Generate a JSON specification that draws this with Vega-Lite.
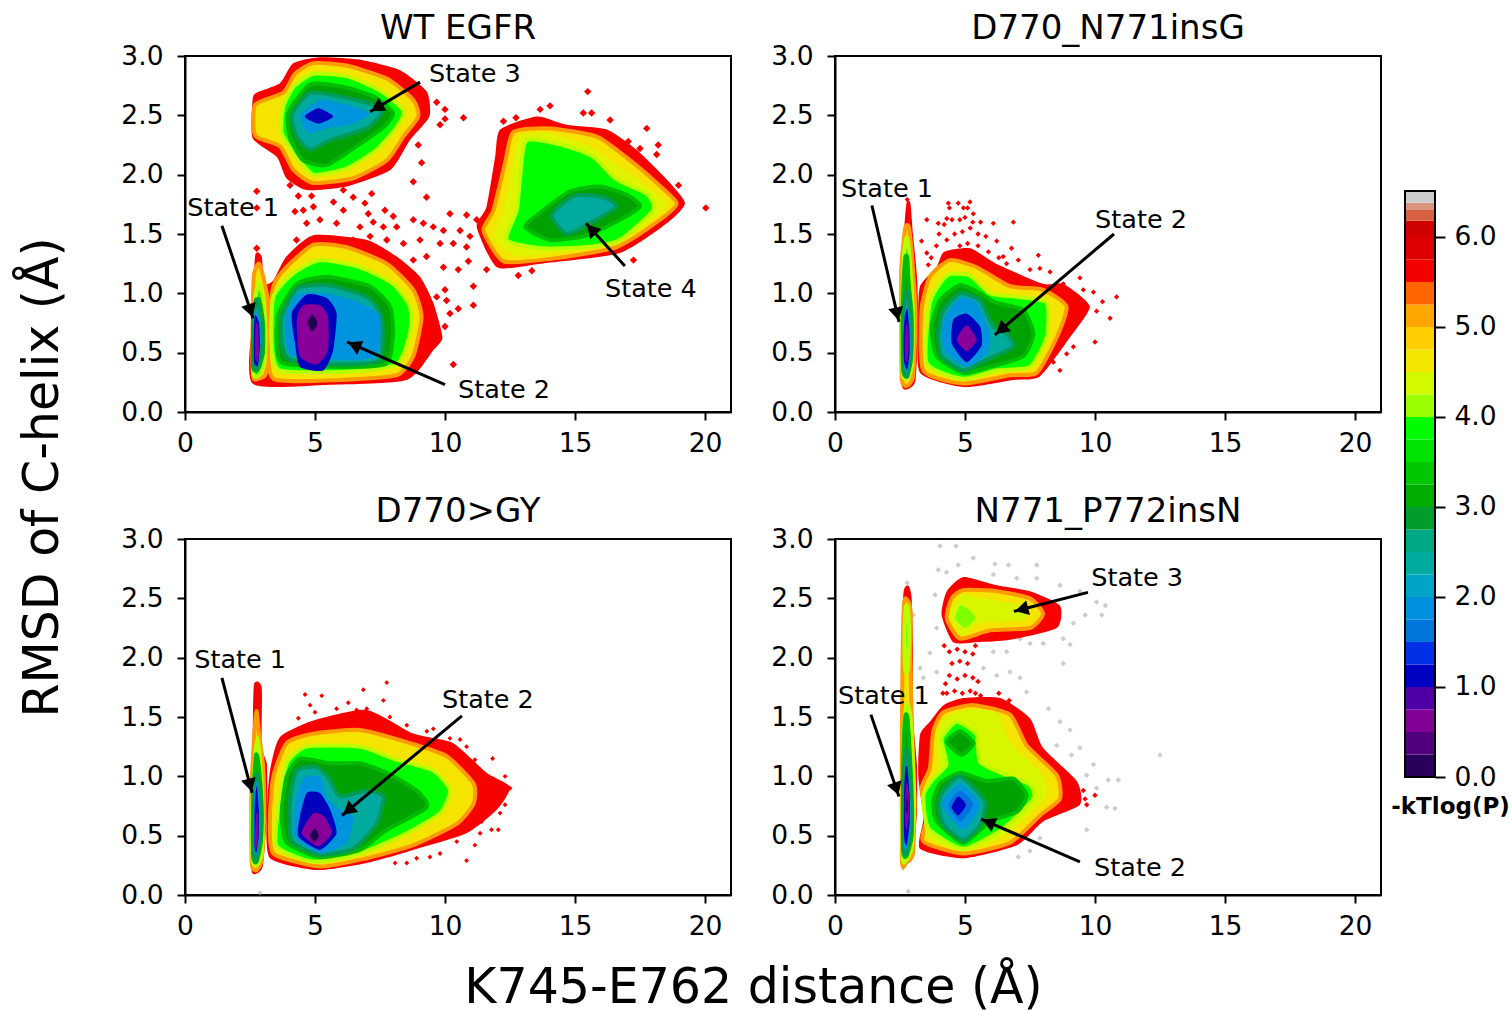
{"$schema":"https://vega.github.io/schema/vega-lite/v6.json","padding":{"left":17,"top":11,"right":0,"bottom":4},"background":"white",
"config":{"font":"DejaVu Sans","view":{"stroke":"black","strokeWidth":2},"title":{"font":"DejaVu Sans","fontSize":34,"fontWeight":"normal","color":"black","offset":-3},"axisX":{"labelPadding":10},"axisY":{"labelPadding":14},"axis":{"grid":false,"labelFont":"DejaVu Sans","labelFontSize":26.5,"labelColor":"black","tickColor":"black","tickSize":8,"tickWidth":2,"domainColor":"black","domainWidth":2,"labelOverlap":false,"labelFlush":false,"titleFont":"DejaVu Sans","titleFontSize":49,"titleFontWeight":"normal","titleColor":"black"}},
"datasets":{
"cbar":[{"v":0.12,"a":0,"b":0.25},{"v":0.37,"a":0.25,"b":0.5},{"v":0.62,"a":0.5,"b":0.75},{"v":0.87,"a":0.75,"b":1},{"v":1.12,"a":1,"b":1.25},{"v":1.37,"a":1.25,"b":1.5},{"v":1.62,"a":1.5,"b":1.75},{"v":1.87,"a":1.75,"b":2},{"v":2.12,"a":2,"b":2.25},{"v":2.37,"a":2.25,"b":2.5},{"v":2.62,"a":2.5,"b":2.75},{"v":2.87,"a":2.75,"b":3},{"v":3.12,"a":3,"b":3.25},{"v":3.37,"a":3.25,"b":3.5},{"v":3.62,"a":3.5,"b":3.75},{"v":3.87,"a":3.75,"b":4},{"v":4.12,"a":4,"b":4.25},{"v":4.37,"a":4.25,"b":4.5},{"v":4.62,"a":4.5,"b":4.75},{"v":4.87,"a":4.75,"b":5},{"v":5.12,"a":5,"b":5.25},{"v":5.37,"a":5.25,"b":5.5},{"v":5.62,"a":5.5,"b":5.75},{"v":5.87,"a":5.75,"b":6},{"v":6.12,"a":6,"b":6.18},{"v":6.28,"a":6.18,"b":6.3},{"v":6.38,"a":6.3,"b":6.38},{"v":6.5,"a":6.38,"b":6.51}],
"frame":[{"a":0,"b":6.51}],
"arrows":[{"p":"A","x":1.42,"y":1.57,"x2":2.62,"y2":0.79},{"p":"A","x":9.04,"y":2.78,"x2":7.12,"y2":2.53},{"p":"A","x":10,"y":0.23,"x2":6.23,"y2":0.59},{"p":"A","x":16.92,"y":1.23,"x2":15.42,"y2":1.59},{"p":"B","x":1.42,"y":1.74,"x2":2.46,"y2":0.76},{"p":"B","x":10.73,"y":1.5,"x2":6.15,"y2":0.65},{"p":"C","x":1.42,"y":1.83,"x2":2.58,"y2":0.86},{"p":"C","x":10.65,"y":1.51,"x2":6.04,"y2":0.67},{"p":"D","x":1.38,"y":1.52,"x2":2.46,"y2":0.83},{"p":"D","x":9.73,"y":2.55,"x2":6.88,"y2":2.39},{"p":"D","x":9.42,"y":0.28,"x2":5.62,"y2":0.64}],
"heads":[{"p":"A","x":2.52,"y":0.854,"a":161.4},{"p":"A","x":7.38,"y":2.565,"a":239},{"p":"A","x":6.51,"y":0.563,"a":293.7},{"p":"A","x":15.63,"y":1.54,"a":317.8},{"p":"B","x":2.39,"y":0.826,"a":167},{"p":"B","x":6.385,"y":0.694,"a":229.7},{"p":"C","x":2.5,"y":0.925,"a":165.4},{"p":"C","x":6.28,"y":0.713,"a":230.2},{"p":"D","x":2.36,"y":0.894,"a":161.1},{"p":"D","x":7.18,"y":2.407,"a":255.6},{"p":"D","x":5.9,"y":0.613,"a":293.5}],
"labels":[{"p":"A","x":1.85,"y":1.72,"t":"State 1"},{"p":"A","x":11.15,"y":2.85,"t":"State 3"},{"p":"A","x":12.27,"y":0.185,"t":"State 2"},{"p":"A","x":17.92,"y":1.04,"t":"State 4"},{"p":"B","x":2,"y":1.88,"t":"State 1"},{"p":"B","x":11.77,"y":1.62,"t":"State 2"},{"p":"C","x":2.12,"y":1.98,"t":"State 1"},{"p":"C","x":11.65,"y":1.64,"t":"State 2"},{"p":"D","x":1.88,"y":1.68,"t":"State 1"},{"p":"D","x":11.62,"y":2.67,"t":"State 3"},{"p":"D","x":11.73,"y":0.23,"t":"State 2"}],
"dotsA":[{"v":5.6,"x":2.76,"y":1.86},{"v":5.6,"x":4.36,"y":1.82},{"v":5.6,"x":4.87,"y":1.82},{"v":5.6,"x":6.09,"y":1.87},{"v":5.6,"x":6.47,"y":1.81},{"v":5.6,"x":7.18,"y":1.84},{"v":5.6,"x":2.76,"y":1.72},{"v":5.6,"x":4.23,"y":1.69},{"v":5.6,"x":4.55,"y":1.7},{"v":5.6,"x":4.94,"y":1.73},{"v":5.6,"x":5.71,"y":1.77},{"v":5.6,"x":6.09,"y":1.7},{"v":5.6,"x":7.05,"y":1.67},{"v":5.6,"x":6.92,"y":1.76},{"v":5.6,"x":7.69,"y":1.7},{"v":5.6,"x":8.01,"y":1.65},{"v":5.6,"x":9.29,"y":1.81},{"v":5.6,"x":10.19,"y":1.67},{"v":5.6,"x":10.83,"y":1.66},{"v":5.6,"x":11.22,"y":1.62},{"v":5.6,"x":5.19,"y":1.62},{"v":5.6,"x":4.68,"y":1.59},{"v":5.6,"x":4.29,"y":1.45},{"v":5.6,"x":5.83,"y":1.59},{"v":5.6,"x":6.73,"y":1.56},{"v":5.6,"x":7.24,"y":1.6},{"v":5.6,"x":7.63,"y":1.56},{"v":5.6,"x":8.14,"y":1.56},{"v":5.6,"x":8.78,"y":1.62},{"v":5.6,"x":9.17,"y":1.59},{"v":5.6,"x":9.55,"y":1.56},{"v":5.6,"x":9.94,"y":1.53},{"v":5.6,"x":10.58,"y":1.53},{"v":5.6,"x":10.96,"y":1.48},{"v":5.6,"x":6.47,"y":1.45},{"v":5.6,"x":7.12,"y":1.48},{"v":5.6,"x":7.76,"y":1.45},{"v":5.6,"x":8.4,"y":1.42},{"v":5.6,"x":9.04,"y":1.45},{"v":5.6,"x":9.81,"y":1.42},{"v":5.6,"x":10.32,"y":1.42},{"v":5.6,"x":10.83,"y":1.39},{"v":5.6,"x":8.78,"y":1.28},{"v":5.6,"x":9.29,"y":1.31},{"v":5.6,"x":9.94,"y":1.22},{"v":5.6,"x":10.51,"y":1.2},{"v":5.6,"x":10.9,"y":1.27},{"v":5.6,"x":11.09,"y":1.06},{"v":5.6,"x":10,"y":1.03},{"v":5.6,"x":9.68,"y":0.97},{"v":5.6,"x":10.06,"y":0.94},{"v":5.6,"x":10.51,"y":0.87},{"v":5.6,"x":11.09,"y":0.9},{"v":5.6,"x":10.19,"y":0.83},{"v":5.6,"x":10,"y":0.72},{"v":5.6,"x":10.32,"y":0.4},{"v":5.6,"x":2.76,"y":1.38},{"v":5.6,"x":4.04,"y":1.91},{"v":5.6,"x":4.94,"y":1.91},{"v":5.6,"x":9.1,"y":2.1},{"v":5.6,"x":8.78,"y":1.94},{"v":5.6,"x":9.68,"y":2.61},{"v":5.6,"x":10,"y":2.55},{"v":5.6,"x":10,"y":2.47},{"v":5.6,"x":9.81,"y":2.42},{"v":5.6,"x":10.71,"y":2.48},{"v":5.6,"x":8.97,"y":2.25},{"v":5.6,"x":8.27,"y":2.21},{"v":5.6,"x":15.49,"y":2.7},{"v":5.6,"x":14.04,"y":2.58},{"v":5.6,"x":13.66,"y":2.55},{"v":5.6,"x":15.32,"y":2.52},{"v":5.6,"x":15.64,"y":2.52},{"v":5.6,"x":16.35,"y":2.46},{"v":5.6,"x":17.76,"y":2.39},{"v":5.6,"x":18.2,"y":2.25},{"v":5.6,"x":18.14,"y":2.17},{"v":5.6,"x":18.98,"y":1.91},{"v":5.6,"x":20.03,"y":1.72},{"v":5.6,"x":17.25,"y":1.28},{"v":5.6,"x":13.34,"y":1.19},{"v":5.6,"x":12.82,"y":1.15},{"v":5.6,"x":11.6,"y":1.2},{"v":5.6,"x":12.25,"y":2.45},{"v":5.6,"x":12.73,"y":2.48},{"v":5.6,"x":17.05,"y":2.28},{"v":5.6,"x":17.5,"y":2.22}],
"dotsB":[{"v":5.6,"x":2.78,"y":1.79},{"v":5.6,"x":4.36,"y":1.76},{"v":5.6,"x":4.74,"y":1.76},{"v":5.6,"x":5.19,"y":1.77},{"v":5.6,"x":5.32,"y":1.67},{"v":5.6,"x":4.94,"y":1.72},{"v":5.6,"x":4.3,"y":1.63},{"v":5.6,"x":3.97,"y":1.59},{"v":5.6,"x":3.53,"y":1.62},{"v":5.6,"x":6.09,"y":1.59},{"v":5.6,"x":6.86,"y":1.6},{"v":5.6,"x":3.33,"y":1.44},{"v":5.6,"x":3.53,"y":1.34},{"v":5.6,"x":3.59,"y":1.24},{"v":5.6,"x":6.22,"y":1.44},{"v":5.6,"x":6.79,"y":1.38},{"v":5.6,"x":6.47,"y":1.31},{"v":5.6,"x":7.05,"y":1.28},{"v":5.6,"x":7.82,"y":1.32},{"v":5.6,"x":7.88,"y":1.21},{"v":5.6,"x":8.27,"y":1.18},{"v":5.6,"x":9.42,"y":1.13},{"v":5.6,"x":8.78,"y":1.08},{"v":5.6,"x":9.55,"y":1.03},{"v":5.6,"x":9.94,"y":1.01},{"v":5.6,"x":10.29,"y":0.93},{"v":5.6,"x":10.83,"y":0.97},{"v":5.6,"x":10.06,"y":0.85},{"v":5.6,"x":10.58,"y":0.79},{"v":5.6,"x":10,"y":0.59},{"v":5.6,"x":9.17,"y":0.55},{"v":5.6,"x":8.91,"y":0.49},{"v":5.6,"x":8.4,"y":0.42},{"v":5.6,"x":8.65,"y":0.35},{"v":5.6,"x":7.5,"y":1.2},{"v":5.6,"x":4.2,"y":1.3},{"v":5.6,"x":4.5,"y":1.35},{"v":5.6,"x":4.8,"y":1.4},{"v":5.6,"x":5.1,"y":1.42},{"v":5.6,"x":5.5,"y":1.4},{"v":5.6,"x":5.9,"y":1.35},{"v":5.6,"x":4.3,"y":1.45},{"v":5.6,"x":4.6,"y":1.5},{"v":5.6,"x":4.9,"y":1.52},{"v":5.6,"x":5.2,"y":1.55},{"v":5.6,"x":5.5,"y":1.5},{"v":5.6,"x":5.8,"y":1.48},{"v":5.6,"x":4.2,"y":1.58},{"v":5.6,"x":4.5,"y":1.62},{"v":5.6,"x":4.8,"y":1.62},{"v":5.6,"x":5,"y":1.64},{"v":5.6,"x":5.3,"y":1.6},{"v":5.6,"x":5.6,"y":1.6},{"v":5.6,"x":4.4,"y":1.72},{"v":5.6,"x":5.1,"y":1.72},{"v":5.6,"x":6.3,"y":1.3},{"v":5.6,"x":6.6,"y":1.25},{"v":5.6,"x":3.9,"y":1.4},{"v":5.6,"x":4,"y":1.5},{"v":5.6,"x":3.7,"y":1.3}],
"dotsC":[{"v":5.6,"x":7.76,"y":1.79},{"v":5.6,"x":6.86,"y":1.73},{"v":5.6,"x":5.26,"y":1.68},{"v":5.6,"x":4.62,"y":1.69},{"v":5.6,"x":4.81,"y":1.6},{"v":5.6,"x":7.63,"y":1.64},{"v":5.6,"x":5.83,"y":1.57},{"v":5.6,"x":6.28,"y":1.62},{"v":5.6,"x":6.6,"y":1.56},{"v":5.6,"x":6.99,"y":1.57},{"v":5.6,"x":5,"y":1.54},{"v":5.6,"x":4.36,"y":1.49},{"v":5.6,"x":7.88,"y":1.5},{"v":5.6,"x":8.53,"y":1.43},{"v":5.6,"x":9.3,"y":1.38},{"v":5.6,"x":9.55,"y":1.4},{"v":5.6,"x":10.19,"y":1.32},{"v":5.6,"x":10.58,"y":1.31},{"v":5.6,"x":10.83,"y":1.25},{"v":5.6,"x":11.15,"y":1.14},{"v":5.6,"x":11.83,"y":1.15},{"v":5.6,"x":12.31,"y":1},{"v":5.6,"x":12.5,"y":0.9},{"v":5.6,"x":12.31,"y":0.76},{"v":5.6,"x":12.12,"y":0.69},{"v":5.6,"x":11.79,"y":0.55},{"v":5.6,"x":12.05,"y":0.55},{"v":5.6,"x":11.15,"y":0.42},{"v":5.6,"x":10.83,"y":0.29},{"v":5.6,"x":9.81,"y":0.35},{"v":5.6,"x":9.42,"y":0.32},{"v":5.6,"x":8.91,"y":0.31},{"v":5.6,"x":8.53,"y":0.27},{"v":5.6,"x":8.08,"y":0.27},{"v":5.6,"x":11.41,"y":0.62},{"v":5.6,"x":11.35,"y":0.52},{"v":5.6,"x":10.45,"y":0.45},{"v":6.5,"x":2.88,"y":0.02}],
"dotsD":[{"v":6.5,"x":4.04,"y":2.94},{"v":6.5,"x":4.65,"y":2.94},{"v":6.5,"x":3.97,"y":2.74},{"v":6.5,"x":4.29,"y":2.72},{"v":6.5,"x":4.74,"y":2.78},{"v":6.5,"x":5.32,"y":2.84},{"v":6.5,"x":6.15,"y":2.79},{"v":6.5,"x":6.67,"y":2.78},{"v":6.5,"x":7.76,"y":2.78},{"v":6.5,"x":6.09,"y":2.7},{"v":6.5,"x":6.99,"y":2.67},{"v":6.5,"x":7.76,"y":2.67},{"v":6.5,"x":8.65,"y":2.61},{"v":6.5,"x":9.42,"y":2.56},{"v":6.5,"x":10.06,"y":2.47},{"v":6.5,"x":10.4,"y":2.44},{"v":6.5,"x":10.26,"y":2.36},{"v":6.5,"x":9.62,"y":2.36},{"v":6.5,"x":9.17,"y":2.29},{"v":6.5,"x":8.78,"y":2.16},{"v":6.5,"x":9.04,"y":2.11},{"v":6.5,"x":8.01,"y":2.12},{"v":6.5,"x":7.5,"y":2.12},{"v":6.5,"x":8.78,"y":1.95},{"v":6.5,"x":7.12,"y":2.16},{"v":6.5,"x":6.6,"y":2.05},{"v":6.5,"x":6.09,"y":2.05},{"v":6.5,"x":5.71,"y":1.91},{"v":6.5,"x":6.73,"y":1.88},{"v":6.5,"x":7.12,"y":1.83},{"v":6.5,"x":7.37,"y":1.71},{"v":6.5,"x":6.22,"y":1.85},{"v":6.5,"x":3.91,"y":1.88},{"v":6.5,"x":3.65,"y":2.04},{"v":6.5,"x":3.91,"y":2.25},{"v":6.5,"x":3.85,"y":2.53},{"v":6.5,"x":8.21,"y":1.57},{"v":6.5,"x":8.65,"y":1.46},{"v":6.5,"x":9.04,"y":1.39},{"v":6.5,"x":8.53,"y":1.26},{"v":6.5,"x":9.42,"y":1.24},{"v":6.5,"x":9.1,"y":1.18},{"v":6.5,"x":9.94,"y":1.1},{"v":6.5,"x":9.68,"y":1.01},{"v":6.5,"x":10.06,"y":0.9},{"v":6.5,"x":10.51,"y":0.97},{"v":6.5,"x":10.9,"y":0.97},{"v":6.5,"x":10.45,"y":0.74},{"v":6.5,"x":10.77,"y":0.73},{"v":6.5,"x":9.68,"y":0.55},{"v":6.5,"x":7.88,"y":0.48},{"v":6.5,"x":7.5,"y":0.37},{"v":6.5,"x":7.05,"y":0.32},{"v":6.5,"x":3.01,"y":2.36},{"v":6.5,"x":3.27,"y":1.91},{"v":6.5,"x":3.4,"y":1.83},{"v":6.5,"x":2.82,"y":0.03},{"v":6.5,"x":2.78,"y":2.63},{"v":6.5,"x":12.5,"y":1.18},{"v":5.6,"x":10,"y":0.84},{"v":5.6,"x":9.62,"y":0.81},{"v":5.6,"x":9.55,"y":0.88},{"v":5.6,"x":9.68,"y":0.76},{"v":5.6,"x":4.3,"y":1.7},{"v":5.6,"x":4.6,"y":1.72},{"v":5.6,"x":4.9,"y":1.7},{"v":5.6,"x":5.2,"y":1.72},{"v":5.6,"x":5.4,"y":1.7},{"v":5.6,"x":4.4,"y":1.85},{"v":5.6,"x":4.7,"y":1.82},{"v":5.6,"x":5,"y":1.85},{"v":5.6,"x":5.3,"y":1.83},{"v":5.6,"x":4.5,"y":1.95},{"v":5.6,"x":4.8,"y":1.97},{"v":5.6,"x":5.1,"y":1.95},{"v":5.6,"x":4.4,"y":2.05},{"v":5.6,"x":4.7,"y":2.07},{"v":5.6,"x":5,"y":2.05},{"v":5.6,"x":5.3,"y":2.03},{"v":5.6,"x":4.25,"y":1.78},{"v":5.6,"x":5.5,"y":1.8},{"v":5.6,"x":5.6,"y":1.68},{"v":5.6,"x":4.15,"y":1.7},{"v":5.6,"x":6.3,"y":1.7},{"v":5.6,"x":6.7,"y":1.64},{"v":5.6,"x":4.2,"y":2.1},{"v":5.6,"x":5.4,"y":2.1}],
"cellsA":[
{"c":1,"v":5.6,"x":2.6,"y":2.63},{"c":1,"v":5.6,"x":2.6,"y":2.31},{"c":1,"v":5.6,"x":3.53,"y":2.15},{"c":1,"v":5.6,"x":3.9,"y":1.97},{"c":1,"v":5.6,"x":4.68,"y":1.87},{"c":1,"v":5.6,"x":6.2,"y":1.9},{"c":1,"v":5.6,"x":7.9,"y":2.04},{"c":1,"v":5.6,"x":8.65,"y":2.29},{"c":1,"v":5.6,"x":9.4,"y":2.49},{"c":1,"v":5.6,"x":9.3,"y":2.7},{"c":1,"v":5.6,"x":8.27,"y":2.88},{"c":1,"v":5.6,"x":6.7,"y":2.97},{"c":1,"v":5.6,"x":5.2,"y":2.99},{"c":1,"v":5.6,"x":4.17,"y":2.94},{"c":1,"v":5.6,"x":3.65,"y":2.77},{"c":1,"v":5.6,"x":2.75,"y":2.69},
{"c":2,"v":5.6,"x":2.6,"y":0.24},{"c":2,"v":5.6,"x":5.58,"y":0.23},{"c":2,"v":5.6,"x":8.53,"y":0.27},{"c":2,"v":5.6,"x":9.55,"y":0.52},{"c":2,"v":5.6,"x":9.9,"y":0.63},{"c":2,"v":5.6,"x":9.55,"y":0.92},{"c":2,"v":5.6,"x":9.04,"y":1.14},{"c":2,"v":5.6,"x":8.14,"y":1.31},{"c":2,"v":5.6,"x":7,"y":1.45},{"c":2,"v":5.6,"x":4.94,"y":1.49},{"c":2,"v":5.6,"x":3.9,"y":1.31},{"c":2,"v":5.6,"x":3.4,"y":1.11},{"c":2,"v":5.6,"x":3.05,"y":1.08},{"c":2,"v":5.6,"x":2.95,"y":1.31},{"c":2,"v":5.6,"x":2.7,"y":1.32},{"c":2,"v":5.6,"x":2.6,"y":0.8},
{"c":3,"v":5.6,"x":11.22,"y":1.56},{"c":3,"v":5.6,"x":12,"y":1.22},{"c":3,"v":5.6,"x":13.66,"y":1.25},{"c":3,"v":5.6,"x":16.73,"y":1.34},{"c":3,"v":5.6,"x":18.53,"y":1.59},{"c":3,"v":5.6,"x":19.23,"y":1.76},{"c":3,"v":5.6,"x":18.53,"y":1.96},{"c":3,"v":5.6,"x":17.37,"y":2.21},{"c":3,"v":5.6,"x":16.22,"y":2.38},{"c":3,"v":5.6,"x":14.68,"y":2.42},{"c":3,"v":5.6,"x":13.53,"y":2.49},{"c":3,"v":5.6,"x":12.12,"y":2.38},{"c":3,"v":5.6,"x":11.93,"y":2.15},{"c":3,"v":5.6,"x":11.6,"y":1.73},
{"c":4,"v":4.65,"x":2.7,"y":2.59},{"c":4,"v":4.65,"x":2.7,"y":2.33},{"c":4,"v":4.65,"x":3.65,"y":2.24},{"c":4,"v":4.65,"x":4.17,"y":2.04},{"c":4,"v":4.65,"x":4.94,"y":1.93},{"c":4,"v":4.65,"x":6.47,"y":1.97},{"c":4,"v":4.65,"x":7.76,"y":2.12},{"c":4,"v":4.65,"x":8.4,"y":2.32},{"c":4,"v":4.65,"x":8.97,"y":2.49},{"c":4,"v":4.65,"x":8.78,"y":2.63},{"c":4,"v":4.65,"x":7.76,"y":2.81},{"c":4,"v":4.65,"x":6.2,"y":2.92},{"c":4,"v":4.65,"x":4.94,"y":2.94},{"c":4,"v":4.65,"x":4.23,"y":2.85},{"c":4,"v":4.65,"x":3.78,"y":2.69},
{"c":5,"v":4.65,"x":3.4,"y":0.28},{"c":5,"v":4.65,"x":5.96,"y":0.27},{"c":5,"v":4.65,"x":8.14,"y":0.31},{"c":5,"v":4.65,"x":8.78,"y":0.47},{"c":5,"v":4.65,"x":9.1,"y":0.8},{"c":5,"v":4.65,"x":8.78,"y":1.03},{"c":5,"v":4.65,"x":7.76,"y":1.25},{"c":5,"v":4.65,"x":6.2,"y":1.39},{"c":5,"v":4.65,"x":4.94,"y":1.41},{"c":5,"v":4.65,"x":3.9,"y":1.22},{"c":5,"v":4.65,"x":3.4,"y":1.06},{"c":5,"v":4.65,"x":3.2,"y":0.66},
{"c":6,"v":4.65,"x":2.62,"y":0.3},{"c":6,"v":4.65,"x":2.8,"y":0.28},{"c":6,"v":4.65,"x":3.1,"y":0.32},{"c":6,"v":4.65,"x":3.15,"y":0.6},{"c":6,"v":4.65,"x":3.2,"y":0.9},{"c":6,"v":4.65,"x":3.05,"y":1.1},{"c":6,"v":4.65,"x":2.85,"y":1.25},{"c":6,"v":4.65,"x":2.65,"y":1.15},{"c":6,"v":4.65,"x":2.6,"y":0.7},
{"c":7,"v":4.65,"x":11.48,"y":1.53},{"c":7,"v":4.65,"x":12.25,"y":1.27},{"c":7,"v":4.65,"x":14.04,"y":1.29},{"c":7,"v":4.65,"x":16.6,"y":1.39},{"c":7,"v":4.65,"x":18.27,"y":1.62},{"c":7,"v":4.65,"x":18.91,"y":1.76},{"c":7,"v":4.65,"x":18.14,"y":1.93},{"c":7,"v":4.65,"x":17.12,"y":2.12},{"c":7,"v":4.65,"x":15.84,"y":2.32},{"c":7,"v":4.65,"x":14.04,"y":2.39},{"c":7,"v":4.65,"x":12.63,"y":2.36},{"c":7,"v":4.65,"x":12.31,"y":2.1},{"c":7,"v":4.65,"x":11.86,"y":1.7},
{"c":8,"v":4.45,"x":11.86,"y":1.48},{"c":8,"v":4.45,"x":12.63,"y":1.32},{"c":8,"v":4.45,"x":14.17,"y":1.34},{"c":8,"v":4.45,"x":16.48,"y":1.42},{"c":8,"v":4.45,"x":18.14,"y":1.65},{"c":8,"v":4.45,"x":18.53,"y":1.77},{"c":8,"v":4.45,"x":17.76,"y":1.9},{"c":8,"v":4.45,"x":16.73,"y":2.07},{"c":8,"v":4.45,"x":15.58,"y":2.24},{"c":8,"v":4.45,"x":14.04,"y":2.35},{"c":8,"v":4.45,"x":12.89,"y":2.33},{"c":8,"v":4.45,"x":12.57,"y":2.07},{"c":8,"v":4.45,"x":12.25,"y":1.7},
{"c":9,"v":3.9,"x":3.78,"y":2.57},{"c":9,"v":3.9,"x":3.72,"y":2.35},{"c":9,"v":3.9,"x":4.3,"y":2.15},{"c":9,"v":3.9,"x":4.94,"y":2},{"c":9,"v":3.9,"x":6.2,"y":2.05},{"c":9,"v":3.9,"x":7.37,"y":2.21},{"c":9,"v":3.9,"x":8.14,"y":2.4},{"c":9,"v":3.9,"x":8.4,"y":2.54},{"c":9,"v":3.9,"x":7.5,"y":2.71},{"c":9,"v":3.9,"x":6.2,"y":2.83},{"c":9,"v":3.9,"x":4.94,"y":2.85},{"c":9,"v":3.9,"x":4.17,"y":2.74},
{"c":10,"v":3.9,"x":3.65,"y":0.35},{"c":10,"v":3.9,"x":6.2,"y":0.34},{"c":10,"v":3.9,"x":8.14,"y":0.4},{"c":10,"v":3.9,"x":8.65,"y":0.66},{"c":10,"v":3.9,"x":8.65,"y":0.89},{"c":10,"v":3.9,"x":8,"y":1.08},{"c":10,"v":3.9,"x":6.73,"y":1.22},{"c":10,"v":3.9,"x":5.2,"y":1.28},{"c":10,"v":3.9,"x":4.17,"y":1.17},{"c":10,"v":3.9,"x":3.4,"y":0.97},{"c":10,"v":3.9,"x":3.33,"y":0.58},
{"c":11,"v":3.9,"x":2.62,"y":0.33},{"c":11,"v":3.9,"x":2.8,"y":0.3},{"c":11,"v":3.9,"x":3.05,"y":0.4},{"c":11,"v":3.9,"x":3.1,"y":0.7},{"c":11,"v":3.9,"x":3,"y":0.95},{"c":11,"v":3.9,"x":2.85,"y":1.1},{"c":11,"v":3.9,"x":2.7,"y":0.95},{"c":11,"v":3.9,"x":2.62,"y":0.7},
{"c":12,"v":3.9,"x":12.37,"y":1.45},{"c":12,"v":3.9,"x":13.66,"y":1.38},{"c":12,"v":3.9,"x":15.45,"y":1.39},{"c":12,"v":3.9,"x":16.73,"y":1.45},{"c":12,"v":3.9,"x":18.01,"y":1.7},{"c":12,"v":3.9,"x":17.76,"y":1.84},{"c":12,"v":3.9,"x":16.6,"y":1.96},{"c":12,"v":3.9,"x":15.71,"y":2.15},{"c":12,"v":3.9,"x":14.68,"y":2.24},{"c":12,"v":3.9,"x":13.14,"y":2.29},{"c":12,"v":3.9,"x":12.89,"y":1.98},{"c":12,"v":3.9,"x":12.76,"y":1.7},
{"c":13,"v":3,"x":3.97,"y":2.52},{"c":13,"v":3,"x":4.04,"y":2.31},{"c":13,"v":3,"x":4.55,"y":2.12},{"c":13,"v":3,"x":5.45,"y":2.08},{"c":13,"v":3,"x":6.6,"y":2.24},{"c":13,"v":3,"x":7.63,"y":2.4},{"c":13,"v":3,"x":8,"y":2.52},{"c":13,"v":3,"x":7.24,"y":2.66},{"c":13,"v":3,"x":6.09,"y":2.74},{"c":13,"v":3,"x":4.8,"y":2.76},
{"c":14,"v":3,"x":3.78,"y":0.41},{"c":14,"v":3,"x":6.2,"y":0.38},{"c":14,"v":3,"x":7.76,"y":0.41},{"c":14,"v":3,"x":8,"y":0.66},{"c":14,"v":3,"x":7.88,"y":0.89},{"c":14,"v":3,"x":7.1,"y":1.06},{"c":14,"v":3,"x":5.45,"y":1.14},{"c":14,"v":3,"x":4.3,"y":1.08},{"c":14,"v":3,"x":3.6,"y":0.83},{"c":14,"v":3,"x":3.53,"y":0.58},
{"c":15,"v":3,"x":2.62,"y":0.38},{"c":15,"v":3,"x":2.8,"y":0.36},{"c":15,"v":3,"x":3,"y":0.5},{"c":15,"v":3,"x":3,"y":0.75},{"c":15,"v":3,"x":2.85,"y":0.95},{"c":15,"v":3,"x":2.65,"y":0.85},
{"c":16,"v":3,"x":13.08,"y":1.56},{"c":16,"v":3,"x":14.04,"y":1.45},{"c":16,"v":3,"x":15.32,"y":1.48},{"c":16,"v":3,"x":16.48,"y":1.59},{"c":16,"v":3,"x":17.5,"y":1.73},{"c":16,"v":3,"x":17,"y":1.83},{"c":16,"v":3,"x":15.96,"y":1.9},{"c":16,"v":3,"x":14.81,"y":1.86},{"c":16,"v":3,"x":13.78,"y":1.7},
{"c":17,"v":2.4,"x":4.1,"y":2.5},{"c":17,"v":2.4,"x":4.3,"y":2.32},{"c":17,"v":2.4,"x":4.8,"y":2.21},{"c":17,"v":2.4,"x":5.58,"y":2.29},{"c":17,"v":2.4,"x":6.99,"y":2.39},{"c":17,"v":2.4,"x":7.56,"y":2.52},{"c":17,"v":2.4,"x":7.1,"y":2.6},{"c":17,"v":2.4,"x":5.96,"y":2.66},{"c":17,"v":2.4,"x":4.8,"y":2.69},
{"c":18,"v":2.4,"x":4.04,"y":0.44},{"c":18,"v":2.4,"x":5.96,"y":0.4},{"c":18,"v":2.4,"x":7.5,"y":0.44},{"c":18,"v":2.4,"x":7.56,"y":0.8},{"c":18,"v":2.4,"x":7,"y":0.97},{"c":18,"v":2.4,"x":5.45,"y":1.07},{"c":18,"v":2.4,"x":4.3,"y":1.04},{"c":18,"v":2.4,"x":3.72,"y":0.8},{"c":18,"v":2.4,"x":3.72,"y":0.58},
{"c":19,"v":2.4,"x":2.63,"y":0.4},{"c":19,"v":2.4,"x":2.8,"y":0.37},{"c":19,"v":2.4,"x":2.97,"y":0.55},{"c":19,"v":2.4,"x":2.95,"y":0.75},{"c":19,"v":2.4,"x":2.75,"y":0.95},{"c":19,"v":2.4,"x":2.63,"y":0.8},
{"c":20,"v":2.4,"x":14.1,"y":1.65},{"c":20,"v":2.4,"x":14.68,"y":1.5},{"c":20,"v":2.4,"x":15.58,"y":1.59},{"c":20,"v":2.4,"x":16.6,"y":1.73},{"c":20,"v":2.4,"x":16.09,"y":1.81},{"c":20,"v":2.4,"x":15.07,"y":1.83},{"c":20,"v":2.4,"x":14.43,"y":1.74},
{"c":21,"v":1.9,"x":4.42,"y":2.5},{"c":21,"v":1.9,"x":4.74,"y":2.35},{"c":21,"v":1.9,"x":5.45,"y":2.39},{"c":21,"v":1.9,"x":6.47,"y":2.43},{"c":21,"v":1.9,"x":7.1,"y":2.52},{"c":21,"v":1.9,"x":6.2,"y":2.59},{"c":21,"v":1.9,"x":5.2,"y":2.63},
{"c":22,"v":1.9,"x":4.17,"y":0.47},{"c":22,"v":1.9,"x":5.96,"y":0.44},{"c":22,"v":1.9,"x":7.37,"y":0.47},{"c":22,"v":1.9,"x":7.5,"y":0.8},{"c":22,"v":1.9,"x":6.73,"y":0.92},{"c":22,"v":1.9,"x":5.45,"y":1},{"c":22,"v":1.9,"x":4.3,"y":0.99},{"c":22,"v":1.9,"x":3.85,"y":0.8},{"c":22,"v":1.9,"x":3.9,"y":0.58},
{"c":23,"v":1.9,"x":2.63,"y":0.42},{"c":23,"v":1.9,"x":2.8,"y":0.4},{"c":23,"v":1.9,"x":2.92,"y":0.6},{"c":23,"v":1.9,"x":2.88,"y":0.78},{"c":23,"v":1.9,"x":2.7,"y":0.86},{"c":23,"v":1.9,"x":2.63,"y":0.75},
{"c":24,"v":1.1,"x":4.6,"y":2.49},{"c":24,"v":1.1,"x":5.13,"y":2.43},{"c":24,"v":1.1,"x":5.7,"y":2.49},{"c":24,"v":1.1,"x":5.13,"y":2.56},
{"c":25,"v":1.1,"x":4.23,"y":0.58},{"c":25,"v":1.1,"x":4.42,"y":0.38},{"c":25,"v":1.1,"x":5.32,"y":0.35},{"c":25,"v":1.1,"x":5.7,"y":0.52},{"c":25,"v":1.1,"x":5.83,"y":0.83},{"c":25,"v":1.1,"x":5.45,"y":0.96},{"c":25,"v":1.1,"x":4.68,"y":0.99},{"c":25,"v":1.1,"x":4.1,"y":0.83},
{"c":26,"v":1.1,"x":2.65,"y":0.42},{"c":26,"v":1.1,"x":2.8,"y":0.39},{"c":26,"v":1.1,"x":2.88,"y":0.55},{"c":26,"v":1.1,"x":2.85,"y":0.75},{"c":26,"v":1.1,"x":2.7,"y":0.82},{"c":26,"v":1.1,"x":2.65,"y":0.7},
{"c":27,"v":0.65,"x":4.3,"y":0.78},{"c":27,"v":0.65,"x":4.42,"y":0.47},{"c":27,"v":0.65,"x":5.06,"y":0.4},{"c":27,"v":0.65,"x":5.5,"y":0.52},{"c":27,"v":0.65,"x":5.5,"y":0.8},{"c":27,"v":0.65,"x":5.2,"y":0.9},{"c":27,"v":0.65,"x":4.55,"y":0.9},
{"c":28,"v":0.65,"x":2.7,"y":0.45},{"c":28,"v":0.65,"x":2.8,"y":0.42},{"c":28,"v":0.65,"x":2.84,"y":0.55},{"c":28,"v":0.65,"x":2.8,"y":0.72},{"c":28,"v":0.65,"x":2.72,"y":0.75},{"c":28,"v":0.65,"x":2.7,"y":0.6},
{"c":29,"v":0.05,"x":4.7,"y":0.75},{"c":29,"v":0.05,"x":4.9,"y":0.68},{"c":29,"v":0.05,"x":5.1,"y":0.75},{"c":29,"v":0.05,"x":4.9,"y":0.82}],
"cellsB":[
{"c":1,"v":5.6,"x":2.55,"y":0.25},{"c":1,"v":5.6,"x":2.75,"y":0.19},{"c":1,"v":5.6,"x":3.1,"y":0.27},{"c":1,"v":5.6,"x":3.2,"y":0.8},{"c":1,"v":5.6,"x":3.15,"y":1.15},{"c":1,"v":5.6,"x":3,"y":1.5},{"c":1,"v":5.6,"x":2.9,"y":1.76},{"c":1,"v":5.6,"x":2.75,"y":1.76},{"c":1,"v":5.6,"x":2.65,"y":1.5},{"c":1,"v":5.6,"x":2.53,"y":0.9},
{"c":2,"v":5.6,"x":3.27,"y":0.33},{"c":2,"v":5.6,"x":4.94,"y":0.21},{"c":2,"v":5.6,"x":6.86,"y":0.27},{"c":2,"v":5.6,"x":7.88,"y":0.3},{"c":2,"v":5.6,"x":9.04,"y":0.63},{"c":2,"v":5.6,"x":9.8,"y":0.89},{"c":2,"v":5.6,"x":8.78,"y":1.08},{"c":2,"v":5.6,"x":8,"y":1.08},{"c":2,"v":5.6,"x":6.2,"y":1.25},{"c":2,"v":5.6,"x":5.2,"y":1.38},{"c":2,"v":5.6,"x":4.2,"y":1.35},{"c":2,"v":5.6,"x":3.9,"y":1.22},{"c":2,"v":5.6,"x":3.27,"y":1.06},{"c":2,"v":5.6,"x":3.2,"y":0.78},
{"c":3,"v":4.65,"x":2.57,"y":0.27},{"c":3,"v":4.65,"x":2.75,"y":0.22},{"c":3,"v":4.65,"x":3,"y":0.3},{"c":3,"v":4.65,"x":3.1,"y":0.8},{"c":3,"v":4.65,"x":3,"y":1.2},{"c":3,"v":4.65,"x":2.85,"y":1.55},{"c":3,"v":4.65,"x":2.7,"y":1.55},{"c":3,"v":4.65,"x":2.55,"y":1.2},{"c":3,"v":4.65,"x":2.55,"y":0.7},
{"c":4,"v":4.65,"x":3.4,"y":0.35},{"c":4,"v":4.65,"x":4.94,"y":0.24},{"c":4,"v":4.65,"x":6.73,"y":0.31},{"c":4,"v":4.65,"x":7.76,"y":0.33},{"c":4,"v":4.65,"x":8.53,"y":0.63},{"c":4,"v":4.65,"x":8.9,"y":0.89},{"c":4,"v":4.65,"x":8,"y":1.03},{"c":4,"v":4.65,"x":6.73,"y":1.06},{"c":4,"v":4.65,"x":5.45,"y":1.22},{"c":4,"v":4.65,"x":4.42,"y":1.28},{"c":4,"v":4.65,"x":3.65,"y":1.14},{"c":4,"v":4.65,"x":3.33,"y":0.86},
{"c":5,"v":3.9,"x":2.6,"y":0.32},{"c":5,"v":3.9,"x":2.76,"y":0.28},{"c":5,"v":3.9,"x":2.95,"y":0.38},{"c":5,"v":3.9,"x":3,"y":0.8},{"c":5,"v":3.9,"x":2.9,"y":1.2},{"c":5,"v":3.9,"x":2.8,"y":1.45},{"c":5,"v":3.9,"x":2.72,"y":1.45},{"c":5,"v":3.9,"x":2.62,"y":1.2},{"c":5,"v":3.9,"x":2.58,"y":0.7},
{"c":6,"v":3.9,"x":3.53,"y":0.41},{"c":6,"v":3.9,"x":4.94,"y":0.28},{"c":6,"v":3.9,"x":6.2,"y":0.35},{"c":6,"v":3.9,"x":7.5,"y":0.38},{"c":6,"v":3.9,"x":8.14,"y":0.63},{"c":6,"v":3.9,"x":8.14,"y":0.92},{"c":6,"v":3.9,"x":6.99,"y":0.97},{"c":6,"v":3.9,"x":5.96,"y":1},{"c":6,"v":3.9,"x":5.19,"y":1.15},{"c":6,"v":3.9,"x":4.3,"y":1.15},{"c":6,"v":3.9,"x":3.65,"y":0.92},
{"c":7,"v":3,"x":2.62,"y":0.35},{"c":7,"v":3,"x":2.76,"y":0.3},{"c":7,"v":3,"x":2.93,"y":0.45},{"c":7,"v":3,"x":2.95,"y":0.8},{"c":7,"v":3,"x":2.83,"y":1.1},{"c":7,"v":3,"x":2.78,"y":1.3},{"c":7,"v":3,"x":2.7,"y":1.3},{"c":7,"v":3,"x":2.62,"y":1},{"c":7,"v":3,"x":2.6,"y":0.7},
{"c":8,"v":3,"x":3.91,"y":0.47},{"c":8,"v":3,"x":4.94,"y":0.33},{"c":8,"v":3,"x":5.96,"y":0.38},{"c":8,"v":3,"x":7.24,"y":0.47},{"c":8,"v":3,"x":7.63,"y":0.66},{"c":8,"v":3,"x":7.24,"y":0.86},{"c":8,"v":3,"x":6.2,"y":0.92},{"c":8,"v":3,"x":5.58,"y":1},{"c":8,"v":3,"x":4.81,"y":1.07},{"c":8,"v":3,"x":4.04,"y":0.94},{"c":8,"v":3,"x":3.72,"y":0.72},
{"c":9,"v":2.4,"x":2.63,"y":0.38},{"c":9,"v":2.4,"x":2.78,"y":0.3},{"c":9,"v":2.4,"x":2.92,"y":0.5},{"c":9,"v":2.4,"x":2.92,"y":0.75},{"c":9,"v":2.4,"x":2.82,"y":1},{"c":9,"v":2.4,"x":2.72,"y":1},{"c":9,"v":2.4,"x":2.62,"y":0.8},
{"c":10,"v":2.4,"x":4.1,"y":0.47},{"c":10,"v":2.4,"x":4.94,"y":0.35},{"c":10,"v":2.4,"x":5.83,"y":0.44},{"c":10,"v":2.4,"x":6.86,"y":0.55},{"c":10,"v":2.4,"x":6.6,"y":0.66},{"c":10,"v":2.4,"x":6.09,"y":0.72},{"c":10,"v":2.4,"x":5.58,"y":0.94},{"c":10,"v":2.4,"x":4.81,"y":1},{"c":10,"v":2.4,"x":4.17,"y":0.86},{"c":10,"v":2.4,"x":3.97,"y":0.66},
{"c":11,"v":1.9,"x":2.65,"y":0.4},{"c":11,"v":1.9,"x":2.78,"y":0.33},{"c":11,"v":1.9,"x":2.9,"y":0.5},{"c":11,"v":1.9,"x":2.9,"y":0.7},{"c":11,"v":1.9,"x":2.8,"y":0.88},{"c":11,"v":1.9,"x":2.68,"y":0.85},{"c":11,"v":1.9,"x":2.62,"y":0.65},
{"c":12,"v":1.9,"x":4.3,"y":0.49},{"c":12,"v":1.9,"x":5.06,"y":0.38},{"c":12,"v":1.9,"x":5.83,"y":0.49},{"c":12,"v":1.9,"x":5.96,"y":0.66},{"c":12,"v":1.9,"x":5.45,"y":0.92},{"c":12,"v":1.9,"x":4.81,"y":0.96},{"c":12,"v":1.9,"x":4.23,"y":0.8},{"c":12,"v":1.9,"x":4.1,"y":0.63},
{"c":13,"v":1.1,"x":2.66,"y":0.42},{"c":13,"v":1.1,"x":2.78,"y":0.36},{"c":13,"v":1.1,"x":2.87,"y":0.5},{"c":13,"v":1.1,"x":2.86,"y":0.7},{"c":13,"v":1.1,"x":2.78,"y":0.87},{"c":13,"v":1.1,"x":2.68,"y":0.8},{"c":13,"v":1.1,"x":2.63,"y":0.6},
{"c":14,"v":1.1,"x":4.49,"y":0.58},{"c":14,"v":1.1,"x":5.06,"y":0.42},{"c":14,"v":1.1,"x":5.64,"y":0.56},{"c":14,"v":1.1,"x":5.58,"y":0.72},{"c":14,"v":1.1,"x":5.06,"y":0.83},{"c":14,"v":1.1,"x":4.55,"y":0.78},
{"c":15,"v":0.65,"x":2.7,"y":0.45},{"c":15,"v":0.65,"x":2.78,"y":0.42},{"c":15,"v":0.65,"x":2.83,"y":0.55},{"c":15,"v":0.65,"x":2.82,"y":0.68},{"c":15,"v":0.65,"x":2.75,"y":0.75},{"c":15,"v":0.65,"x":2.7,"y":0.62},
{"c":16,"v":0.65,"x":4.68,"y":0.61},{"c":16,"v":0.65,"x":5.06,"y":0.51},{"c":16,"v":0.65,"x":5.45,"y":0.61},{"c":16,"v":0.65,"x":5.06,"y":0.73}],
"cellsC":[
{"c":1,"v":5.6,"x":2.55,"y":0.22},{"c":1,"v":5.6,"x":2.75,"y":0.18},{"c":1,"v":5.6,"x":3,"y":0.25},{"c":1,"v":5.6,"x":3.15,"y":0.7},{"c":1,"v":5.6,"x":3.15,"y":1.1},{"c":1,"v":5.6,"x":2.95,"y":1.25},{"c":1,"v":5.6,"x":2.95,"y":1.75},{"c":1,"v":5.6,"x":2.65,"y":1.77},{"c":1,"v":5.6,"x":2.6,"y":1.25},{"c":1,"v":5.6,"x":2.53,"y":0.8},
{"c":2,"v":5.6,"x":3.27,"y":0.31},{"c":2,"v":5.6,"x":5.06,"y":0.21},{"c":2,"v":5.6,"x":6.99,"y":0.27},{"c":2,"v":5.6,"x":8.78,"y":0.38},{"c":2,"v":5.6,"x":10.83,"y":0.52},{"c":2,"v":5.6,"x":12,"y":0.72},{"c":2,"v":5.6,"x":12.5,"y":0.91},{"c":2,"v":5.6,"x":11.6,"y":1.03},{"c":2,"v":5.6,"x":10.3,"y":1.28},{"c":2,"v":5.6,"x":8.78,"y":1.36},{"c":2,"v":5.6,"x":6.99,"y":1.56},{"c":2,"v":5.6,"x":4.94,"y":1.47},{"c":2,"v":5.6,"x":3.65,"y":1.33},{"c":2,"v":5.6,"x":3.27,"y":1.05},{"c":2,"v":5.6,"x":3.14,"y":0.66},
{"c":3,"v":4.65,"x":2.57,"y":0.26},{"c":3,"v":4.65,"x":2.75,"y":0.21},{"c":3,"v":4.65,"x":2.95,"y":0.3},{"c":3,"v":4.65,"x":3.05,"y":0.7},{"c":3,"v":4.65,"x":3,"y":1.1},{"c":3,"v":4.65,"x":2.85,"y":1.35},{"c":3,"v":4.65,"x":2.75,"y":1.55},{"c":3,"v":4.65,"x":2.65,"y":1.3},{"c":3,"v":4.65,"x":2.55,"y":0.8},
{"c":4,"v":4.65,"x":3.4,"y":0.35},{"c":4,"v":4.65,"x":5.19,"y":0.24},{"c":4,"v":4.65,"x":6.99,"y":0.31},{"c":4,"v":4.65,"x":8.78,"y":0.42},{"c":4,"v":4.65,"x":10.45,"y":0.6},{"c":4,"v":4.65,"x":11.1,"y":0.77},{"c":4,"v":4.65,"x":11.1,"y":0.94},{"c":4,"v":4.65,"x":10.06,"y":1.17},{"c":4,"v":4.65,"x":8.65,"y":1.28},{"c":4,"v":4.65,"x":6.73,"y":1.39},{"c":4,"v":4.65,"x":4.94,"y":1.36},{"c":4,"v":4.65,"x":3.91,"y":1.28},{"c":4,"v":4.65,"x":3.4,"y":1},{"c":4,"v":4.65,"x":3.27,"y":0.66},
{"c":5,"v":3.9,"x":2.6,"y":0.3},{"c":5,"v":3.9,"x":2.75,"y":0.25},{"c":5,"v":3.9,"x":2.95,"y":0.35},{"c":5,"v":3.9,"x":2.98,"y":0.7},{"c":5,"v":3.9,"x":2.9,"y":1.1},{"c":5,"v":3.9,"x":2.78,"y":1.33},{"c":5,"v":3.9,"x":2.68,"y":1.1},{"c":5,"v":3.9,"x":2.58,"y":0.7},
{"c":6,"v":3.9,"x":3.53,"y":0.41},{"c":6,"v":3.9,"x":4.94,"y":0.28},{"c":6,"v":3.9,"x":6.73,"y":0.35},{"c":6,"v":3.9,"x":8.53,"y":0.52},{"c":6,"v":3.9,"x":9.81,"y":0.69},{"c":6,"v":3.9,"x":10.19,"y":0.88},{"c":6,"v":3.9,"x":9.55,"y":1.05},{"c":6,"v":3.9,"x":8.14,"y":1.14},{"c":6,"v":3.9,"x":6.73,"y":1.25},{"c":6,"v":3.9,"x":4.68,"y":1.25},{"c":6,"v":3.9,"x":3.91,"y":1.11},{"c":6,"v":3.9,"x":3.59,"y":0.74},
{"c":7,"v":3,"x":2.62,"y":0.33},{"c":7,"v":3,"x":2.75,"y":0.28},{"c":7,"v":3,"x":2.92,"y":0.45},{"c":7,"v":3,"x":2.95,"y":0.75},{"c":7,"v":3,"x":2.83,"y":1.1},{"c":7,"v":3,"x":2.73,"y":1.18},{"c":7,"v":3,"x":2.63,"y":0.85},
{"c":8,"v":3,"x":3.91,"y":0.44},{"c":8,"v":3,"x":5.19,"y":0.32},{"c":8,"v":3,"x":6.73,"y":0.38},{"c":8,"v":3,"x":7.76,"y":0.55},{"c":8,"v":3,"x":9.3,"y":0.74},{"c":8,"v":3,"x":8.91,"y":0.88},{"c":8,"v":3,"x":7.76,"y":1.03},{"c":8,"v":3,"x":6.73,"y":1.11},{"c":8,"v":3,"x":5.58,"y":1.11},{"c":8,"v":3,"x":4.42,"y":1.15},{"c":8,"v":3,"x":3.91,"y":1},{"c":8,"v":3,"x":3.72,"y":0.69},
{"c":9,"v":2.4,"x":2.63,"y":0.36},{"c":9,"v":2.4,"x":2.75,"y":0.3},{"c":9,"v":2.4,"x":2.9,"y":0.5},{"c":9,"v":2.4,"x":2.92,"y":0.75},{"c":9,"v":2.4,"x":2.8,"y":1},{"c":9,"v":2.4,"x":2.7,"y":0.98},{"c":9,"v":2.4,"x":2.62,"y":0.7},
{"c":10,"v":2.4,"x":4.1,"y":0.46},{"c":10,"v":2.4,"x":5.19,"y":0.34},{"c":10,"v":2.4,"x":6.47,"y":0.39},{"c":10,"v":2.4,"x":7.37,"y":0.6},{"c":10,"v":2.4,"x":7.63,"y":0.83},{"c":10,"v":2.4,"x":6.99,"y":0.88},{"c":10,"v":2.4,"x":5.96,"y":0.83},{"c":10,"v":2.4,"x":5.58,"y":0.97},{"c":10,"v":2.4,"x":5.06,"y":1.08},{"c":10,"v":2.4,"x":4.29,"y":1.05},{"c":10,"v":2.4,"x":4.04,"y":0.8},
{"c":11,"v":1.9,"x":2.65,"y":0.38},{"c":11,"v":1.9,"x":2.75,"y":0.33},{"c":11,"v":1.9,"x":2.87,"y":0.5},{"c":11,"v":1.9,"x":2.88,"y":0.72},{"c":11,"v":1.9,"x":2.78,"y":0.95},{"c":11,"v":1.9,"x":2.68,"y":0.9},{"c":11,"v":1.9,"x":2.63,"y":0.6},
{"c":12,"v":1.9,"x":4.23,"y":0.49},{"c":12,"v":1.9,"x":5.19,"y":0.35},{"c":12,"v":1.9,"x":6.22,"y":0.44},{"c":12,"v":1.9,"x":6.47,"y":0.66},{"c":12,"v":1.9,"x":5.96,"y":0.72},{"c":12,"v":1.9,"x":5.45,"y":0.83},{"c":12,"v":1.9,"x":5.19,"y":1},{"c":12,"v":1.9,"x":4.55,"y":0.98},{"c":12,"v":1.9,"x":4.23,"y":0.77},
{"c":13,"v":1.1,"x":2.68,"y":0.4},{"c":13,"v":1.1,"x":2.75,"y":0.36},{"c":13,"v":1.1,"x":2.84,"y":0.5},{"c":13,"v":1.1,"x":2.84,"y":0.72},{"c":13,"v":1.1,"x":2.76,"y":0.92},{"c":13,"v":1.1,"x":2.68,"y":0.75},
{"c":14,"v":1.1,"x":4.36,"y":0.49},{"c":14,"v":1.1,"x":5.19,"y":0.38},{"c":14,"v":1.1,"x":5.83,"y":0.52},{"c":14,"v":1.1,"x":5.58,"y":0.72},{"c":14,"v":1.1,"x":5.19,"y":0.86},{"c":14,"v":1.1,"x":4.68,"y":0.86},{"c":14,"v":1.1,"x":4.42,"y":0.66},
{"c":15,"v":0.65,"x":2.68,"y":0.42},{"c":15,"v":0.65,"x":2.76,"y":0.4},{"c":15,"v":0.65,"x":2.82,"y":0.5},{"c":15,"v":0.65,"x":2.8,"y":0.68},{"c":15,"v":0.65,"x":2.73,"y":0.68},
{"c":16,"v":0.65,"x":4.49,"y":0.52},{"c":16,"v":0.65,"x":5.13,"y":0.41},{"c":16,"v":0.65,"x":5.64,"y":0.52},{"c":16,"v":0.65,"x":5.38,"y":0.66},{"c":16,"v":0.65,"x":4.94,"y":0.69},
{"c":17,"v":0.05,"x":4.8,"y":0.5},{"c":17,"v":0.05,"x":5,"y":0.45},{"c":17,"v":0.05,"x":5.15,"y":0.5},{"c":17,"v":0.05,"x":5,"y":0.56}],
"cellsD":[
{"c":1,"v":5.6,"x":2.55,"y":0.28},{"c":1,"v":5.6,"x":2.75,"y":0.26},{"c":1,"v":5.6,"x":3,"y":0.32},{"c":1,"v":5.6,"x":3.15,"y":0.7},{"c":1,"v":5.6,"x":3.15,"y":1.1},{"c":1,"v":5.6,"x":3,"y":1.5},{"c":1,"v":5.6,"x":3,"y":2.1},{"c":1,"v":5.6,"x":2.95,"y":2.5},{"c":1,"v":5.6,"x":2.85,"y":2.6},{"c":1,"v":5.6,"x":2.72,"y":2.6},{"c":1,"v":5.6,"x":2.62,"y":2.5},{"c":1,"v":5.6,"x":2.55,"y":1.6},
{"c":2,"v":5.6,"x":3.27,"y":0.39},{"c":2,"v":5.6,"x":4.94,"y":0.31},{"c":2,"v":5.6,"x":7,"y":0.42},{"c":2,"v":5.6,"x":8.01,"y":0.62},{"c":2,"v":5.6,"x":9.42,"y":0.76},{"c":2,"v":5.6,"x":9.3,"y":0.96},{"c":2,"v":5.6,"x":8,"y":1.24},{"c":2,"v":5.6,"x":7.5,"y":1.49},{"c":2,"v":5.6,"x":6.35,"y":1.66},{"c":2,"v":5.6,"x":4.94,"y":1.66},{"c":2,"v":5.6,"x":4.17,"y":1.6},{"c":2,"v":5.6,"x":3.65,"y":1.46},{"c":2,"v":5.6,"x":3.27,"y":1.35},{"c":2,"v":5.6,"x":3.2,"y":1.01},{"c":2,"v":5.6,"x":3.4,"y":0.65},
{"c":4,"v":5.6,"x":4.1,"y":2.36},{"c":4,"v":5.6,"x":4.55,"y":2.13},{"c":4,"v":5.6,"x":5.45,"y":2.13},{"c":4,"v":5.6,"x":6.73,"y":2.15},{"c":4,"v":5.6,"x":8.53,"y":2.25},{"c":4,"v":5.6,"x":8.65,"y":2.44},{"c":4,"v":5.6,"x":7.5,"y":2.56},{"c":4,"v":5.6,"x":6.22,"y":2.61},{"c":4,"v":5.6,"x":4.94,"y":2.68},{"c":4,"v":5.6,"x":4.3,"y":2.56},
{"c":5,"v":4.65,"x":2.57,"y":0.3},{"c":5,"v":4.65,"x":2.75,"y":0.28},{"c":5,"v":4.65,"x":3,"y":0.35},{"c":5,"v":4.65,"x":3.05,"y":0.8},{"c":5,"v":4.65,"x":2.95,"y":1.5},{"c":5,"v":4.65,"x":2.9,"y":2},{"c":5,"v":4.65,"x":2.9,"y":2.4},{"c":5,"v":4.65,"x":2.8,"y":2.48},{"c":5,"v":4.65,"x":2.65,"y":2.45},{"c":5,"v":4.65,"x":2.58,"y":1.6},
{"c":6,"v":4.65,"x":3.4,"y":0.45},{"c":6,"v":4.65,"x":4.94,"y":0.35},{"c":6,"v":4.65,"x":6.73,"y":0.44},{"c":6,"v":4.65,"x":7.88,"y":0.67},{"c":6,"v":4.65,"x":8.65,"y":0.81},{"c":6,"v":4.65,"x":8.53,"y":1.01},{"c":6,"v":4.65,"x":7.37,"y":1.26},{"c":6,"v":4.65,"x":6.73,"y":1.52},{"c":6,"v":4.65,"x":5.32,"y":1.6},{"c":6,"v":4.65,"x":4.17,"y":1.54},{"c":6,"v":4.65,"x":3.78,"y":1.38},{"c":6,"v":4.65,"x":3.65,"y":1.07},{"c":6,"v":4.65,"x":3.33,"y":0.9},{"c":6,"v":4.65,"x":3.53,"y":0.65},
{"c":7,"v":4.65,"x":4.3,"y":2.33},{"c":7,"v":4.65,"x":4.81,"y":2.16},{"c":7,"v":4.65,"x":5.96,"y":2.23},{"c":7,"v":4.65,"x":7.5,"y":2.25},{"c":7,"v":4.65,"x":8,"y":2.37},{"c":7,"v":4.65,"x":7.5,"y":2.5},{"c":7,"v":4.65,"x":6.22,"y":2.56},{"c":7,"v":4.65,"x":4.94,"y":2.57},{"c":7,"v":4.65,"x":4.49,"y":2.5},
{"c":8,"v":4.4,"x":3.53,"y":0.5},{"c":8,"v":4.4,"x":4.94,"y":0.37},{"c":8,"v":4.4,"x":6.41,"y":0.49},{"c":8,"v":4.4,"x":7.76,"y":0.74},{"c":8,"v":4.4,"x":8.14,"y":0.84},{"c":8,"v":4.4,"x":8,"y":1.01},{"c":8,"v":4.4,"x":6.73,"y":1.29},{"c":8,"v":4.4,"x":6.22,"y":1.54},{"c":8,"v":4.4,"x":5.06,"y":1.56},{"c":8,"v":4.4,"x":4.23,"y":1.5},{"c":8,"v":4.4,"x":3.91,"y":1.35},{"c":8,"v":4.4,"x":3.91,"y":1.04},{"c":8,"v":4.4,"x":3.46,"y":0.87},
{"c":9,"v":4.4,"x":4.42,"y":2.33},{"c":9,"v":4.4,"x":4.94,"y":2.19},{"c":9,"v":4.4,"x":5.58,"y":2.29},{"c":9,"v":4.4,"x":7.24,"y":2.32},{"c":9,"v":4.4,"x":7.37,"y":2.43},{"c":9,"v":4.4,"x":5.96,"y":2.49},{"c":9,"v":4.4,"x":4.87,"y":2.53},{"c":9,"v":4.4,"x":4.55,"y":2.44},
{"c":10,"v":4.05,"x":4.62,"y":2.33},{"c":10,"v":4.05,"x":5,"y":2.25},{"c":10,"v":4.05,"x":5.4,"y":2.33},{"c":10,"v":4.05,"x":5.19,"y":2.4},{"c":10,"v":4.05,"x":4.81,"y":2.44},
{"c":11,"v":3.9,"x":2.6,"y":0.33},{"c":11,"v":3.9,"x":2.75,"y":0.3},{"c":11,"v":3.9,"x":2.95,"y":0.4},{"c":11,"v":3.9,"x":3.05,"y":0.8},{"c":11,"v":3.9,"x":2.9,"y":1.5},{"c":11,"v":3.9,"x":2.75,"y":1.6},{"c":11,"v":3.9,"x":2.62,"y":1.3},
{"c":12,"v":3.9,"x":2.7,"y":1.9},{"c":12,"v":3.9,"x":2.8,"y":1.9},{"c":12,"v":3.9,"x":2.85,"y":2.2},{"c":12,"v":3.9,"x":2.8,"y":2.42},{"c":12,"v":3.9,"x":2.72,"y":2.42},{"c":12,"v":3.9,"x":2.68,"y":2.2},
{"c":13,"v":3.9,"x":3.6,"y":0.56},{"c":13,"v":3.9,"x":4.94,"y":0.39},{"c":13,"v":3.9,"x":6.47,"y":0.56},{"c":13,"v":3.9,"x":7.63,"y":0.81},{"c":13,"v":3.9,"x":7.5,"y":0.93},{"c":13,"v":3.9,"x":6.6,"y":1.01},{"c":13,"v":3.9,"x":5.58,"y":1.12},{"c":13,"v":3.9,"x":5.45,"y":1.35},{"c":13,"v":3.9,"x":4.68,"y":1.46},{"c":13,"v":3.9,"x":4.1,"y":1.32},{"c":13,"v":3.9,"x":4.29,"y":1.1},{"c":13,"v":3.9,"x":3.78,"y":0.98},{"c":13,"v":3.9,"x":3.4,"y":0.84},
{"c":14,"v":3,"x":4.3,"y":1.29},{"c":14,"v":3,"x":4.87,"y":1.18},{"c":14,"v":3,"x":5.32,"y":1.28},{"c":14,"v":3,"x":4.81,"y":1.38},
{"c":15,"v":3,"x":3.91,"y":0.62},{"c":15,"v":3,"x":4.94,"y":0.44},{"c":15,"v":3,"x":5.96,"y":0.62},{"c":15,"v":3,"x":6.99,"y":0.7},{"c":15,"v":3,"x":7.37,"y":0.84},{"c":15,"v":3,"x":6.86,"y":0.98},{"c":15,"v":3,"x":5.83,"y":0.96},{"c":15,"v":3,"x":4.81,"y":1.03},{"c":15,"v":3,"x":4.04,"y":0.94},{"c":15,"v":3,"x":3.78,"y":0.79},
{"c":16,"v":3,"x":2.62,"y":0.38},{"c":16,"v":3,"x":2.75,"y":0.33},{"c":16,"v":3,"x":2.95,"y":0.5},{"c":16,"v":3,"x":2.95,"y":0.85},{"c":16,"v":3,"x":2.85,"y":1.3},{"c":16,"v":3,"x":2.78,"y":1.5},{"c":16,"v":3,"x":2.7,"y":1.5},{"c":16,"v":3,"x":2.62,"y":1.1},
{"c":17,"v":2.4,"x":3.97,"y":0.76},{"c":17,"v":2.4,"x":4.17,"y":0.59},{"c":17,"v":2.4,"x":4.94,"y":0.46},{"c":17,"v":2.4,"x":5.58,"y":0.59},{"c":17,"v":2.4,"x":5.77,"y":0.79},{"c":17,"v":2.4,"x":4.81,"y":1},{"c":17,"v":2.4,"x":4.17,"y":0.88},
{"c":18,"v":2.4,"x":2.63,"y":0.4},{"c":18,"v":2.4,"x":2.75,"y":0.35},{"c":18,"v":2.4,"x":2.92,"y":0.55},{"c":18,"v":2.4,"x":2.92,"y":0.85},{"c":18,"v":2.4,"x":2.82,"y":1.2},{"c":18,"v":2.4,"x":2.72,"y":1.2},{"c":18,"v":2.4,"x":2.63,"y":0.9},
{"c":19,"v":1.9,"x":4.1,"y":0.76},{"c":19,"v":1.9,"x":4.94,"y":0.55},{"c":19,"v":1.9,"x":5.58,"y":0.76},{"c":19,"v":1.9,"x":4.81,"y":0.94},
{"c":20,"v":1.9,"x":2.65,"y":0.42},{"c":20,"v":1.9,"x":2.75,"y":0.38},{"c":20,"v":1.9,"x":2.9,"y":0.55},{"c":20,"v":1.9,"x":2.9,"y":0.8},{"c":20,"v":1.9,"x":2.8,"y":1},{"c":20,"v":1.9,"x":2.7,"y":1},{"c":20,"v":1.9,"x":2.63,"y":0.8},
{"c":21,"v":1.6,"x":4.36,"y":0.76},{"c":21,"v":1.6,"x":4.81,"y":0.62},{"c":21,"v":1.6,"x":5.32,"y":0.76},{"c":21,"v":1.6,"x":4.81,"y":0.88},
{"c":22,"v":1.15,"x":4.49,"y":0.74},{"c":22,"v":1.15,"x":4.74,"y":0.67},{"c":22,"v":1.15,"x":5.04,"y":0.76},{"c":22,"v":1.15,"x":4.74,"y":0.83},
{"c":23,"v":1.1,"x":2.66,"y":0.48},{"c":23,"v":1.1,"x":2.76,"y":0.42},{"c":23,"v":1.1,"x":2.87,"y":0.6},{"c":23,"v":1.1,"x":2.87,"y":0.85},{"c":23,"v":1.1,"x":2.78,"y":1.08},{"c":23,"v":1.1,"x":2.7,"y":1.05},{"c":23,"v":1.1,"x":2.65,"y":0.8},
{"c":24,"v":0.65,"x":2.7,"y":0.6},{"c":24,"v":0.65,"x":2.77,"y":0.55},{"c":24,"v":0.65,"x":2.85,"y":0.7},{"c":24,"v":0.65,"x":2.84,"y":0.85},{"c":24,"v":0.65,"x":2.77,"y":0.97},{"c":24,"v":0.65,"x":2.7,"y":0.85},
{"c":25,"v":0.05,"x":2.72,"y":0.72},{"c":25,"v":0.05,"x":2.78,"y":0.68},{"c":25,"v":0.05,"x":2.82,"y":0.77},{"c":25,"v":0.05,"x":2.78,"y":0.85}]
},
"hconcat":[{"concat":[
{"title":"WT EGFR","width":546,"height":356,"encoding":{"x":{"field":"x","type":"quantitative","scale":{"domain":[0,21],"nice":false},"axis":{"values":[0,5,10,15,20],"format":"d","title":null}},"y":{"field":"y","type":"quantitative","scale":{"domain":[0,3],"nice":false},"axis":{"values":[0,0.5,1,1.5,2,2.5,3],"format":".1f","title":"RMSD of C-helix (Å)","titleX":-118,"titleY":421}}},
"layer":[
{"data":{"name":"dotsA"},"mark":{"type":"point","filled":true,"shape":"diamond","size":55,"opacity":1,"clip":true},"encoding":{"color":{"field":"v","type":"quantitative","legend":null}}},
{"data":{"name":"cellsA"},"mark":{"type":"line","filled":true,"interpolate":"cardinal-closed","tension":0.4,"order":null,"clip":true,"strokeWidth":4},"encoding":{"color":{"field":"v","type":"quantitative","legend":null},"stroke":{"condition":[{"test":"datum.v==4.65","value":"#ff9a00"},{"test":"datum.v==3.9","value":"#b8ff00"},{"test":"datum.v==3","value":"#00bb00"},{"test":"datum.v==2.4","value":"#009c55"}],"value":"transparent"},"detail":{"field":"c"}}},
{"data":{"name":"arrows"},"transform":[{"filter":"datum.p=='A'"}],"mark":{"type":"rule","color":"black","strokeWidth":3},"encoding":{"x2":{"field":"x2"},"y2":{"field":"y2"}}},
{"data":{"name":"heads"},"transform":[{"filter":"datum.p=='A'"}],"mark":{"type":"point","filled":true,"shape":"triangle-up","size":230,"color":"black","opacity":1},"encoding":{"angle":{"field":"a","type":"quantitative","scale":null}}},
{"data":{"name":"labels"},"transform":[{"filter":"datum.p=='A'"}],"mark":{"type":"text","font":"DejaVu Sans","fontSize":25.5,"color":"black","align":"center","baseline":"middle"},"encoding":{"text":{"field":"t"}}}]},
{"title":"D770_N771insG","width":546,"height":356,"encoding":{"x":{"field":"x","type":"quantitative","scale":{"domain":[0,21],"nice":false},"axis":{"values":[0,5,10,15,20],"format":"d","title":null}},"y":{"field":"y","type":"quantitative","scale":{"domain":[0,3],"nice":false},"axis":{"values":[0,0.5,1,1.5,2,2.5,3],"format":".1f","title":null}}},
"layer":[
{"data":{"name":"dotsB"},"mark":{"type":"point","filled":true,"shape":"diamond","size":28,"opacity":1,"clip":true},"encoding":{"color":{"field":"v","type":"quantitative","legend":null}}},
{"data":{"name":"cellsB"},"mark":{"type":"line","filled":true,"interpolate":"cardinal-closed","tension":0.4,"order":null,"clip":true,"strokeWidth":4},"encoding":{"color":{"field":"v","type":"quantitative","legend":null},"stroke":{"condition":[{"test":"datum.v==4.65","value":"#ff9a00"},{"test":"datum.v==3.9","value":"#b8ff00"},{"test":"datum.v==3","value":"#00bb00"},{"test":"datum.v==2.4","value":"#009c55"}],"value":"transparent"},"detail":{"field":"c"}}},
{"data":{"name":"arrows"},"transform":[{"filter":"datum.p=='B'"}],"mark":{"type":"rule","color":"black","strokeWidth":3},"encoding":{"x2":{"field":"x2"},"y2":{"field":"y2"}}},
{"data":{"name":"heads"},"transform":[{"filter":"datum.p=='B'"}],"mark":{"type":"point","filled":true,"shape":"triangle-up","size":230,"color":"black","opacity":1},"encoding":{"angle":{"field":"a","type":"quantitative","scale":null}}},
{"data":{"name":"labels"},"transform":[{"filter":"datum.p=='B'"}],"mark":{"type":"text","font":"DejaVu Sans","fontSize":25.5,"color":"black","align":"center","baseline":"middle"},"encoding":{"text":{"field":"t"}}}]},
{"title":"D770>GY","width":546,"height":356,"encoding":{"x":{"field":"x","type":"quantitative","scale":{"domain":[0,21],"nice":false},"axis":{"values":[0,5,10,15,20],"format":"d","title":"K745-E762 distance (Å)","titleX":568,"titleY":68}},"y":{"field":"y","type":"quantitative","scale":{"domain":[0,3],"nice":false},"axis":{"values":[0,0.5,1,1.5,2,2.5,3],"format":".1f","title":null}}},
"layer":[
{"data":{"name":"dotsC"},"mark":{"type":"point","filled":true,"shape":"diamond","size":24,"opacity":1,"clip":true},"encoding":{"color":{"field":"v","type":"quantitative","legend":null}}},
{"data":{"name":"cellsC"},"mark":{"type":"line","filled":true,"interpolate":"cardinal-closed","tension":0.4,"order":null,"clip":true,"strokeWidth":4},"encoding":{"color":{"field":"v","type":"quantitative","legend":null},"stroke":{"condition":[{"test":"datum.v==4.65","value":"#ff9a00"},{"test":"datum.v==3.9","value":"#b8ff00"},{"test":"datum.v==3","value":"#00bb00"},{"test":"datum.v==2.4","value":"#009c55"}],"value":"transparent"},"detail":{"field":"c"}}},
{"data":{"name":"arrows"},"transform":[{"filter":"datum.p=='C'"}],"mark":{"type":"rule","color":"black","strokeWidth":3},"encoding":{"x2":{"field":"x2"},"y2":{"field":"y2"}}},
{"data":{"name":"heads"},"transform":[{"filter":"datum.p=='C'"}],"mark":{"type":"point","filled":true,"shape":"triangle-up","size":230,"color":"black","opacity":1},"encoding":{"angle":{"field":"a","type":"quantitative","scale":null}}},
{"data":{"name":"labels"},"transform":[{"filter":"datum.p=='C'"}],"mark":{"type":"text","font":"DejaVu Sans","fontSize":25.5,"color":"black","align":"center","baseline":"middle"},"encoding":{"text":{"field":"t"}}}]},
{"title":"N771_P772insN","width":546,"height":356,"encoding":{"x":{"field":"x","type":"quantitative","scale":{"domain":[0,21],"nice":false},"axis":{"values":[0,5,10,15,20],"format":"d","title":null}},"y":{"field":"y","type":"quantitative","scale":{"domain":[0,3],"nice":false},"axis":{"values":[0,0.5,1,1.5,2,2.5,3],"format":".1f","title":null}}},
"layer":[
{"data":{"name":"dotsD"},"mark":{"type":"point","filled":true,"shape":"diamond","size":30,"opacity":1,"clip":true},"encoding":{"color":{"field":"v","type":"quantitative","legend":null}}},
{"data":{"name":"cellsD"},"mark":{"type":"line","filled":true,"interpolate":"cardinal-closed","tension":0.4,"order":null,"clip":true,"strokeWidth":4},"encoding":{"color":{"field":"v","type":"quantitative","legend":null},"stroke":{"condition":[{"test":"datum.v==4.65","value":"#ff9a00"},{"test":"datum.v==3.9","value":"#b8ff00"},{"test":"datum.v==3","value":"#00bb00"},{"test":"datum.v==2.4","value":"#009c55"}],"value":"transparent"},"detail":{"field":"c"}}},
{"data":{"name":"arrows"},"transform":[{"filter":"datum.p=='D'"}],"mark":{"type":"rule","color":"black","strokeWidth":3},"encoding":{"x2":{"field":"x2"},"y2":{"field":"y2"}}},
{"data":{"name":"heads"},"transform":[{"filter":"datum.p=='D'"}],"mark":{"type":"point","filled":true,"shape":"triangle-up","size":230,"color":"black","opacity":1},"encoding":{"angle":{"field":"a","type":"quantitative","scale":null}}},
{"data":{"name":"labels"},"transform":[{"filter":"datum.p=='D'"}],"mark":{"type":"text","font":"DejaVu Sans","fontSize":25.5,"color":"black","align":"center","baseline":"middle"},"encoding":{"text":{"field":"t"}}}]}
],"columns":2,"spacing":{"row":127,"column":104},"bounds":"flush"},
{"width":30,"height":721,"view":{"stroke":null},"encoding":{"y":{"field":"a","type":"quantitative","scale":{"domain":[0,8.011],"nice":false},"axis":{"orient":"right","values":[0,1,2,3,4,5,6],"format":".1f","domain":false,"tickSize":10,"labelPadding":9,"title":"-kTlog(P)","titleFontSize":23,"titleFontWeight":"bold","titleAngle":0,"titleAlign":"center","titleBaseline":"middle","titleX":15,"titleY":750}},"y2":{"field":"b"}},
"layer":[
{"data":{"name":"cbar"},"mark":{"type":"rect"},"encoding":{"color":{"field":"v","type":"quantitative","legend":null,"scale":{"domain":[0,0.325,0.65,0.975,1.3,1.625,1.95,2.275,2.6,2.925,3.25,3.575,3.9,4.225,4.55,4.875,5.2,5.525,5.85,6.175,6.5],"range":["#000000","#470077","#880099","#0000aa","#0000dd","#0077dd","#0099dd","#00aaaa","#00aa88","#009900","#00bb00","#00dd00","#00ff00","#bbff00","#eeee00","#ffcc00","#ff9900","#ff0000","#dd0000","#cc0000","#cccccc"]}}}},
{"data":{"name":"frame"},"mark":{"type":"rect","fillOpacity":0,"stroke":"black","strokeWidth":2},"encoding":{}}]}
],"spacing":8}
